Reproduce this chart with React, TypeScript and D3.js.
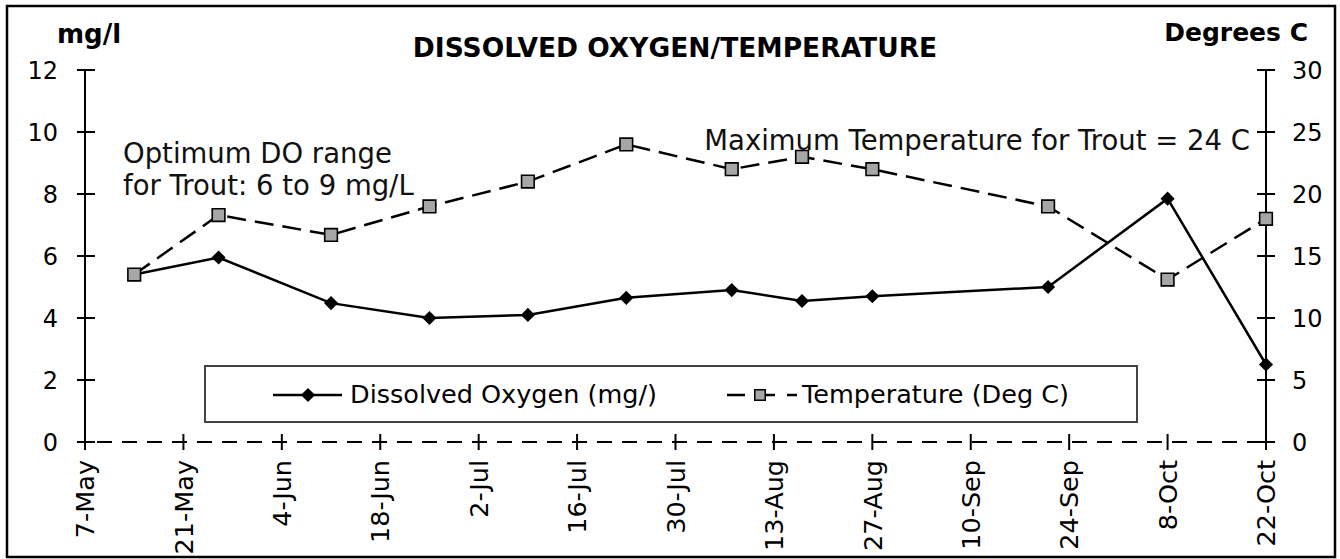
import React, { useEffect, useRef } from "react";
import * as d3 from "d3";

// sampling dates (year is arbitrary, only day/month matter)
const sampleDates = [
  "14-May", "26-May", "11-Jun", "25-Jun", "9-Jul", "23-Jul",
  "7-Aug", "17-Aug", "27-Aug", "21-Sep", "8-Oct", "22-Oct",
];
const dissolvedOxygen = [5.4, 5.95, 4.48, 4.0, 4.1, 4.65, 4.9, 4.55, 4.7, 5.0, 7.85, 2.5];
const temperature = [13.5, 18.3, 16.7, 19.0, 21.0, 24.0, 22.0, 23.0, 22.0, 19.0, 13.1, 18.0];

const xTickLabels = [
  "7-May", "21-May", "4-Jun", "18-Jun", "2-Jul", "16-Jul", "30-Jul",
  "13-Aug", "27-Aug", "10-Sep", "24-Sep", "8-Oct", "22-Oct",
];
const leftTicks = [0, 2, 4, 6, 8, 10, 12];
const rightTicks = [0, 5, 10, 15, 20, 25, 30];

const W = 1340;
const H = 559;
const FONT = "DejaVu Sans";

const parseDay = (s: string) => d3.timeParse("%d-%b-%Y")(`${s}-2008`) as Date;

const App: React.FC = () => {
  const svgRef = useRef<SVGSVGElement>(null);

  useEffect(() => {
    if (!svgRef.current) return;
    const svg = d3.select(svgRef.current);
    svg.selectAll("*").remove();

    const ticks = xTickLabels.map(parseDay);
    const x = d3
      .scaleTime()
      .domain([ticks[0], ticks[ticks.length - 1]])
      .range([85, 1266]);
    const yL = d3.scaleLinear().domain([0, 12]).range([442, 70]);
    const yR = d3.scaleLinear().domain([0, 30]).range([442, 70]);

    const doData = sampleDates.map((d, i) => ({ date: parseDay(d), v: dissolvedOxygen[i] }));
    const tData = sampleDates.map((d, i) => ({ date: parseDay(d), v: temperature[i] }));

    // frame clip
    svg
      .append("defs")
      .append("clipPath")
      .attr("id", "frameClip")
      .append("rect")
      .attr("x", 7)
      .attr("y", 6)
      .attr("width", 1328)
      .attr("height", 551);

    svg.append("rect").attr("width", W).attr("height", H).attr("fill", "white");

    const g = svg.append("g").attr("clip-path", "url(#frameClip)");

    // title + axis titles
    g.append("text")
      .attr("x", 675)
      .attr("y", 57)
      .attr("text-anchor", "middle")
      .style("font-family", FONT)
      .style("font-weight", "bold")
      .style("font-size", "26.5px")
      .text("DISSOLVED OXYGEN/TEMPERATURE");
    g.append("text")
      .attr("x", 57)
      .attr("y", 43)
      .style("font-family", FONT)
      .style("font-weight", "bold")
      .style("font-size", "26px")
      .text("mg/l");
    g.append("text")
      .attr("x", 1308)
      .attr("y", 41)
      .attr("text-anchor", "end")
      .style("font-family", FONT)
      .style("font-weight", "bold")
      .style("font-size", "25px")
      .text("Degrees C");

    // annotations
    const ann = g
      .append("text")
      .style("font-family", FONT)
      .style("font-size", "27.5px")
      .attr("fill", "#111");
    ann.append("tspan").attr("x", 123).attr("y", 163).text("Optimum DO range");
    ann.append("tspan").attr("x", 123).attr("y", 195).text("for Trout: 6 to 9 mg/L");
    g.append("text")
      .attr("x", 1250)
      .attr("y", 150)
      .attr("text-anchor", "end")
      .style("font-family", FONT)
      .style("font-size", "27.5px")
      .attr("fill", "#111")
      .text("Maximum Temperature for Trout = 24 C");

    // x axis (dashed)
    g.append("line")
      .attr("x1", x.range()[0])
      .attr("x2", x.range()[1])
      .attr("y1", yL(0))
      .attr("y2", yL(0))
      .attr("stroke", "black")
      .attr("stroke-width", 2)
      .attr("stroke-dasharray", "15,10")
      .attr("stroke-dashoffset", -12);

    g.selectAll(".xtick")
      .data(ticks)
      .enter()
      .append("line")
      .attr("x1", (d) => x(d))
      .attr("x2", (d) => x(d))
      .attr("y1", yL(0) - 8)
      .attr("y2", yL(0) + 8)
      .attr("stroke", "black")
      .attr("stroke-width", 2);

    g.selectAll(".xlabel")
      .data(ticks)
      .enter()
      .append("text")
      .attr("transform", (d) => `translate(${x(d)},460) rotate(-90)`)
      .attr("text-anchor", "end")
      .attr("dy", "0.36em")
      .style("font-family", FONT)
      .style("font-size", "25.5px")
      .text((d, i) => xTickLabels[i]);

    // left axis
    g.append("line")
      .attr("x1", 85)
      .attr("x2", 85)
      .attr("y1", yL(12))
      .attr("y2", yL(0))
      .attr("stroke", "black")
      .attr("stroke-width", 2);
    g.selectAll(".ltick")
      .data(leftTicks)
      .enter()
      .append("line")
      .attr("x1", 77)
      .attr("x2", 95)
      .attr("y1", (d) => yL(d))
      .attr("y2", (d) => yL(d))
      .attr("stroke", "black")
      .attr("stroke-width", 2);
    g.selectAll(".llabel")
      .data(leftTicks)
      .enter()
      .append("text")
      .attr("x", 58)
      .attr("y", (d) => yL(d))
      .attr("dy", "0.36em")
      .attr("text-anchor", "end")
      .style("font-family", FONT)
      .style("font-size", "24px")
      .text((d) => d);

    // right axis
    g.append("line")
      .attr("x1", 1266)
      .attr("x2", 1266)
      .attr("y1", yR(30))
      .attr("y2", yR(0))
      .attr("stroke", "black")
      .attr("stroke-width", 2);
    g.selectAll(".rtick")
      .data(rightTicks)
      .enter()
      .append("line")
      .attr("x1", 1257)
      .attr("x2", 1275)
      .attr("y1", (d) => yR(d))
      .attr("y2", (d) => yR(d))
      .attr("stroke", "black")
      .attr("stroke-width", 2);
    g.selectAll(".rlabel")
      .data(rightTicks)
      .enter()
      .append("text")
      .attr("x", 1292)
      .attr("y", (d) => yR(d))
      .attr("dy", "0.36em")
      .style("font-family", FONT)
      .style("font-size", "24px")
      .text((d) => d);

    // series
    const doLine = d3
      .line<{ date: Date; v: number }>()
      .x((d) => x(d.date))
      .y((d) => yL(d.v));
    const tLine = d3
      .line<{ date: Date; v: number }>()
      .x((d) => x(d.date))
      .y((d) => yR(d.v));

    g.append("path")
      .datum(tData)
      .attr("d", tLine)
      .attr("fill", "none")
      .attr("stroke", "black")
      .attr("stroke-width", 2.5)
      .attr("stroke-dasharray", "19,9");

    g.append("path")
      .datum(doData)
      .attr("d", doLine)
      .attr("fill", "none")
      .attr("stroke", "black")
      .attr("stroke-width", 2.5);

    const diamond = d3.symbol(d3.symbolSquare, 100);
    const square = d3.symbol(d3.symbolSquare, 160);

    g.selectAll(".dopt")
      .data(doData)
      .enter()
      .append("path")
      .attr("d", diamond)
      .attr("transform", (d) => `translate(${x(d.date)},${yL(d.v)}) rotate(45)`)
      .attr("fill", "black");

    g.selectAll(".tpt")
      .data(tData)
      .enter()
      .append("path")
      .attr("d", square)
      .attr("transform", (d) => `translate(${x(d.date)},${yR(d.v)})`)
      .attr("fill", "#a6a6a6")
      .attr("stroke", "black")
      .attr("stroke-width", 1.6);

    // legend
    const lg = g.append("g");
    lg.append("rect")
      .attr("x", 205)
      .attr("y", 366)
      .attr("width", 932)
      .attr("height", 56)
      .attr("fill", "white")
      .attr("stroke", "#444")
      .attr("stroke-width", 2);
    lg.append("line")
      .attr("x1", 273)
      .attr("x2", 342)
      .attr("y1", 395)
      .attr("y2", 395)
      .attr("stroke", "black")
      .attr("stroke-width", 2.5);
    lg.append("path")
      .attr("d", diamond)
      .attr("transform", "translate(308,395) rotate(45)")
      .attr("fill", "black");
    lg.append("text")
      .attr("x", 350)
      .attr("y", 403)
      .style("font-family", FONT)
      .style("font-size", "25.5px")
      .text("Dissolved Oxygen (mg/)");
    lg.append("line")
      .attr("x1", 727)
      .attr("x2", 797)
      .attr("y1", 395)
      .attr("y2", 395)
      .attr("stroke", "black")
      .attr("stroke-width", 2.5)
      .attr("stroke-dasharray", "18,12");
    lg.append("path")
      .attr("d", d3.symbol(d3.symbolSquare, 110))
      .attr("transform", "translate(760,395)")
      .attr("fill", "#a6a6a6")
      .attr("stroke", "black")
      .attr("stroke-width", 1.5);
    lg.append("text")
      .attr("x", 802)
      .attr("y", 403)
      .style("font-family", FONT)
      .style("font-size", "25.5px")
      .text("Temperature (Deg C)");

    // outer frame
    svg
      .append("rect")
      .attr("x", 7)
      .attr("y", 6)
      .attr("width", 1328)
      .attr("height", 551)
      .attr("fill", "none")
      .attr("stroke", "black")
      .attr("stroke-width", 2.5);
  }, []);

  return (
    <svg
      ref={svgRef}
      width={W}
      height={H}
      style={{ position: "absolute", left: 0, top: 0, display: "block" }}
    />
  );
};

export default App;
